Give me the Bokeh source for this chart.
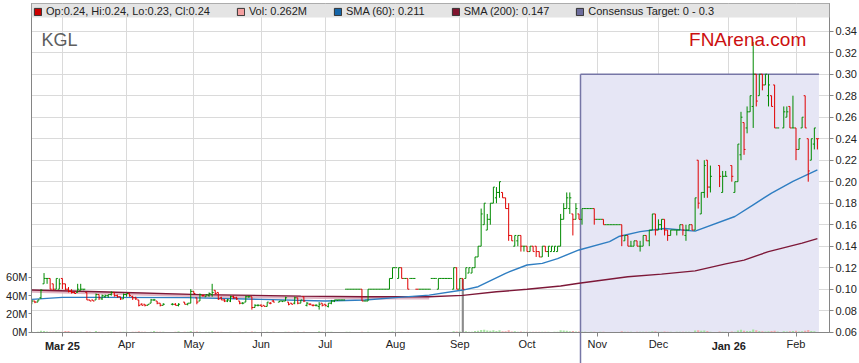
import numpy as np
import pandas as pd
from bokeh.plotting import figure
from bokeh.models import (ColumnDataSource, Range1d, LinearAxis, FixedTicker, PrintfTickFormatter,
                          BoxAnnotation, Label, Legend, LegendItem)
from bokeh.embed import file_html
from bokeh.resources import INLINE

# ---------------- data ----------------
ticker_name = "KGL"
brand = "FNArena.com"
first_day = "2025-02-17"
last_day = "2026-02-11"

# one row per week (Mon..Fri); None = market closed
opens = [
    .087, .089, .088, .092, .105,  .110, .110, .105, .100, .100,
    .110, .105, .100, .098, .097,  .097, .099, .100, .097, .090,
    .090, .090, .095, .091, .093,  .094, .095, .097, .094, .093,
    .091, .095, .096, .093, .092,  .090, .086, .086, .085, .087,
    .090, .089, .087, .085, None,  None, .086, .086, .085, None,
    .088, .086, .087, .098, .092,  .089, .094, .093, .094, .095,
    .099, .097, .092, .090, .089,  .089, .093, .092, .089, .087,
    .088, .093, .093, .083, .085,  .085, .085, .084, .087, .089,
    None, .088, .089, .089, .088,  .087, .087, .092, .087, .093,
    .085, .086, .085, .085, .084,  .087, .086, .084, .087, .089,
    .090, .090, .090, .100, .100,  .100, .100, .100, .100, .089,
    .089, .100, .100, .100, .100,  .100, .100, .100, .110, .120,
    .110, .120, .110, .110, .110,  .110, .100, .100, .100, .100,
    .100, .110, .110, .100, .110,  .110, .110, .110, .100, .120,
    .100, .110, .110, .115, .115,  .120, .130, .140, .160, .155,
    .165, .180, .185, .190, .190,  .185, .175, .150, .140, .145,
    .150, .140, .140, .135, .140,  .140, .135, .130, .140, .135,
    .135, .135, .135, .140, .165,  .175, .175, .170, .165, .170,
    .165, .175, .175, .175, .175,  .165, .165, .165, .160, .160,
    .160, .160, .160, .160, .145,  .150, .140, .140, .145, .140,
    .140, .150, .145, .155, .170,  .155, .160, .165, .155, .150,
    .155, .155, .155, .160, .150,  .155, .160, .155, .220, .170,
    .190, .220, .195, None, None,  .215, .190, .205, None, .215,
    .190, .200, .225, .255, .250,  .265, .270, .300, .280, .300,
    .290, .280, .280, .290, .250,  None, .250, .260, .270, .250,
    .250, .230, .250, .280, .240,  .220, .235, .240,
]
highs = [
    .090, .089, .090, .100, .115,  .110, .110, .105, .110, .110,
    .110, .105, .102, .100, .098,  .105, .105, .100, .097, .090,
    .090, .096, .095, .095, .095,  .095, .098, .097, .095, .093,
    .096, .096, .096, .094, .093,  .090, .087, .086, .086, .091,
    .091, .089, .087, .087, None,  None, .087, .087, .087, None,
    .088, .087, .100, .098, .092,  .096, .095, .095, .097, .105,
    .099, .097, .093, .091, .091,  .094, .094, .093, .089, .088,
    .094, .094, .093, .086, .086,  .086, .085, .088, .088, .090,
    None, .089, .089, .093, .088,  .087, .093, .092, .090, .093,
    .088, .087, .086, .086, .088,  .087, .086, .087, .090, .090,
    .090, .090, .090, .100, .100,  .100, .100, .100, .100, .089,
    .100, .100, .100, .100, .100,  .100, .100, .110, .120, .120,
    .120, .120, .110, .110, .110,  .110, .100, .100, .100, .100,
    .100, .110, .110, .110, .110,  .110, .110, .110, .120, .120,
    .110, .110, .120, .120, .120,  .130, .140, .175, .180, .170,
    .180, .195, .195, .200, .190,  .185, .180, .150, .150, .150,
    .150, .140, .140, .140, .140,  .140, .135, .140, .140, .140,
    .140, .140, .140, .170, .180,  .190, .190, .170, .180, .170,
    .175, .175, .175, .175, .175,  .165, .165, .165, .160, .160,
    .160, .160, .160, .160, .150,  .150, .145, .145, .145, .145,
    .150, .150, .155, .170, .170,  .165, .165, .165, .155, .155,
    .155, .155, .160, .160, .160,  .160, .160, .185, .220, .190,
    .220, .220, .215, None, None,  .215, .210, .210, None, .215,
    .200, .235, .265, .255, .270,  .280, .330, .300, .300, .300,
    .300, .300, .280, .290, .250,  None, .270, .270, .270, .280,
    .250, .240, .260, .280, .240,  .240, .250, .240,
]
lows = [
    .086, .087, .088, .091, .105,  .105, .100, .099, .100, .100,
    .100, .099, .097, .096, .096,  .097, .099, .099, .090, .089,
    .089, .090, .090, .090, .092,  .092, .094, .093, .092, .090,
    .091, .093, .093, .090, .090,  .084, .085, .084, .085, .087,
    .089, .086, .084, .085, None,  None, .085, .085, .084, None,
    .086, .085, .087, .096, .086,  .089, .093, .093, .093, .093,
    .095, .090, .090, .088, .088,  .088, .091, .090, .086, .086,
    .088, .092, .081, .083, .084,  .084, .084, .084, .086, .088,
    None, .088, .088, .089, .085,  .086, .086, .086, .087, .088,
    .084, .085, .084, .084, .081,  .084, .084, .083, .086, .088,
    .089, .090, .090, .100, .100,  .100, .100, .100, .089, .089,
    .089, .100, .100, .100, .100,  .100, .100, .100, .110, .120,
    .110, .110, .110, .100, .110,  .110, .100, .100, .100, .100,
    .100, .110, .110, .100, .110,  .110, .110, .110, .100, .100,
    .100, .100, .110, .115, .115,  .120, .130, .140, .160, .155,
    .160, .180, .180, .185, .185,  .175, .145, .145, .140, .140,
    .135, .135, .135, .135, .135,  .130, .130, .130, .135, .130,
    .135, .135, .135, .140, .165,  .175, .170, .150, .165, .165,
    .160, .175, .175, .175, .160,  .165, .165, .160, .160, .160,
    .160, .160, .160, .140, .145,  .140, .140, .140, .140, .135,
    .140, .145, .140, .155, .150,  .155, .155, .150, .145, .150,
    .155, .150, .155, .150, .145,  .155, .155, .155, .175, .170,
    .185, .185, .190, None, None,  .195, .190, .205, None, .200,
    .190, .200, .220, .225, .245,  .265, .250, .270, .280, .285,
    .290, .270, .270, .250, .250,  None, .250, .260, .250, .250,
    .220, .230, .250, .250, .200,  .220, .230, .230,
]
closes = [
    .089, .088, .090, .099, .110,  .110, .100, .100, .110, .105,
    .105, .100, .098, .097, .096,  .100, .100, .100, .090, .089,
    .089, .095, .092, .094, .094,  .095, .097, .094, .093, .091,
    .095, .096, .094, .092, .091,  .085, .085, .085, .086, .090,
    .090, .087, .085, .086, None,  None, .086, .085, .086, None,
    .086, .087, .098, .096, .088,  .095, .094, .095, .096, .097,
    .096, .091, .090, .089, .090,  .093, .092, .091, .087, .087,
    .093, .093, .083, .085, .085,  .084, .084, .088, .087, .088,
    None, .089, .089, .092, .086,  .086, .092, .087, .090, .089,
    .087, .086, .085, .085, .086,  .085, .085, .087, .089, .090,
    .090, .090, .090, .100, .100,  .100, .100, .100, .089, .089,
    .100, .100, .100, .100, .100,  .100, .100, .110, .120, .120,
    .120, .110, .110, .100, .110,  .110, .100, .100, .100, .100,
    .100, .110, .110, .110, .110,  .110, .110, .110, .120, .100,
    .110, .100, .120, .120, .120,  .130, .140, .170, .180, .165,
    .180, .195, .190, .200, .185,  .175, .150, .145, .150, .150,
    .140, .140, .135, .140, .135,  .135, .130, .140, .135, .140,
    .140, .140, .140, .165, .175,  .185, .185, .165, .175, .165,
    .175, .175, .175, .175, .165,  .165, .165, .160, .160, .160,
    .160, .160, .160, .150, .150,  .140, .140, .145, .140, .140,
    .150, .145, .155, .170, .155,  .160, .165, .155, .150, .155,
    .155, .155, .160, .155, .155,  .160, .155, .185, .180, .190,
    .215, .195, .205, None, None,  .205, .205, .205, None, .205,
    .200, .235, .260, .230, .265,  .280, .300, .275, .300, .290,
    .300, .290, .270, .250, .250,  None, .265, .265, .250, .250,
    .230, .240, .260, .250, .210,  .240, .250, .240,
]
volumes_m = [
    0.4, 0.3, 0.5, 1.6, 1.2,  0.8, 0.6, 0.5, 0.7, 0.5,
    0.4, 1.4, 1.3, 0.6, 0.4,  0.5, 0.6, 0.3, 0.8, 0.4,
    0.3, 1.2, 0.5, 0.4, 0.3,  0.4, 0.5, 0.6, 0.3, 0.4,
    0.5, 0.4, 0.3, 0.5, 0.4,  0.9, 0.5, 0.4, 0.3, 0.6,
    1.4, 0.5, 0.6, 0.4, None, None, 0.3, 0.4, 1.1, None,
    0.5, 0.4, 1.2, 0.6, 0.7,  0.6, 0.3, 0.4, 0.5, 0.9,
    0.6, 0.5, 0.4, 0.3, 0.3,  0.4, 0.3, 0.3, 0.5, 0.3,
    0.4, 0.3, 0.8, 0.4, 0.3,  0.3, 0.3, 0.4, 0.3, 0.4,
    None, 0.2, 0.2, 0.4, 0.5, 0.3, 0.5, 0.4, 0.3, 0.4,
    0.3, 0.3, 0.2, 0.3, 1.0,  0.4, 0.3, 0.5, 0.4, 0.3,
    0.2, 0.2, 0.1, 0.6, 0.4,  0.2, 0.2, 0.2, 0.5, 0.2,
    0.4, 0.2, 0.2, 0.1, 0.2,  0.2, 0.2, 0.6, 0.8, 0.3,
    0.5, 0.6, 0.2, 0.5, 0.3,  0.2, 0.3, 0.2, 0.2, 0.2,
    0.2, 0.3, 0.2, 0.4, 0.2,  0.2, 0.3, 0.2, 0.9, 0.7,
    0.8, 58.0, 1.0, 0.6, 0.5, 1.2, 1.5, 2.5, 2.8, 1.9,
    1.6, 2.2, 1.4, 2.0, 1.1,  1.0, 2.0, 0.8, 0.9, 0.6,
    0.7, 0.5, 0.4, 0.5, 0.4,  0.4, 0.5, 0.6, 0.4, 0.5,
    0.3, 0.4, 0.4, 2.2, 1.8,  1.6, 1.1, 1.4, 0.8, 0.7,
    0.6, 0.4, 0.3, 0.4, 0.5,  0.3, 0.4, 0.5, 0.2, 0.2,
    0.2, 0.2, 0.3, 0.9, 0.5,  0.6, 0.4, 0.3, 0.5, 0.4,
    0.5, 0.4, 0.6, 1.1, 0.9,  0.6, 0.5, 0.7, 0.5, 0.4,
    0.3, 0.4, 0.5, 0.6, 0.5,  0.4, 0.3, 1.9, 2.2, 1.6,
    1.8, 1.2, 0.6, None, None, 0.8, 0.6, 0.5, None, 0.7,
    0.5, 1.9, 2.6, 1.5, 1.3,  1.4, 3.0, 2.0, 1.2, 0.9,
    0.8, 1.1, 1.3, 1.6, 0.7,  None, 1.0, 0.7, 1.1, 1.2,
    1.6, 0.8, 1.0, 1.5, 2.4,  1.3, 0.9, 0.262,
]

sma60_dates = ["2025-02-17", "2025-03-03", "2025-03-19", "2025-04-29", "2025-06-02", "2025-07-01",
               "2025-07-18", "2025-08-04", "2025-08-18", "2025-09-02", "2025-09-09", "2025-09-22",
               "2025-10-01", "2025-10-08", "2025-10-15", "2025-10-24", "2025-11-07", "2025-11-12",
               "2025-11-21", "2025-12-03", "2025-12-17", "2026-01-05", "2026-01-13", "2026-01-21",
               "2026-01-30", "2026-02-11"]
sma60_vals = [0.0905, 0.0924, 0.0924, 0.0922, 0.0905, 0.0890,
              0.0900, 0.0924, 0.0945, 0.0992, 0.1023, 0.1148,
              0.1225, 0.1240, 0.1285, 0.1365, 0.1443, 0.1490,
              0.1536, 0.1565, 0.1540, 0.1676, 0.1785, 0.1894,
              0.2003, 0.2110]
sma200_dates = ["2025-02-17", "2025-03-19", "2025-05-05", "2025-06-19", "2025-07-18", "2025-08-18",
                "2025-09-02", "2025-09-17", "2025-10-01", "2025-10-16", "2025-10-24", "2025-11-17",
                "2025-12-02", "2025-12-17", "2025-12-31", "2026-01-08", "2026-01-20", "2026-02-04",
                "2026-02-11"]
sma200_vals = [0.0992, 0.0976, 0.0950, 0.0936, 0.0930, 0.0930,
               0.0943, 0.0976, 0.0999, 0.1030, 0.1055, 0.1116,
               0.1140, 0.1170, 0.1235, 0.1270, 0.1350, 0.1428,
               0.1470]
sma200_warmup_end = "2025-08-22"

consensus_low, consensus_high = 0.0, 0.3
consensus_start = "2025-10-27"

month_labels = ["Mar 25", "Apr", "May", "Jun", "Jul", "Aug", "Sep", "Oct", "Nov", "Dec", "Jan 26", "Feb"]
year_labels = ["Mar 25", "Jan 26"]
price_ticks = [0.06, 0.08, 0.10, 0.12, 0.14, 0.16, 0.18, 0.20, 0.22, 0.24, 0.26, 0.28, 0.30, 0.32, 0.34]
vol_ticks = [0, 20, 40, 60]

# ---------------- build ----------------
days = pd.bdate_range(first_day, last_day)
assert len(days) == len(opens) == len(highs) == len(lows) == len(closes) == len(volumes_m)
pos = np.arange(len(days), dtype=float)
date_pos = {d.strftime("%Y-%m-%d"): float(i) for i, d in enumerate(days)}

df = pd.DataFrame(dict(x=pos, o=opens, h=highs, l=lows, c=closes, v=volumes_m), dtype=float)
df = df.dropna().reset_index(drop=True)

UP, DOWN = "#008a00", "#e00000"
cols, vcols = [], []
prev = None
for o, c, v in zip(df.o, df.c, df.v):
    if c > o:
        up = True
    elif c < o:
        up = False
    else:
        up = True if prev is None else c >= prev
    cols.append(UP if up else DOWN)
    vcols.append("#8c8c8c" if v > 20 else ("#a6e3a0" if up else "#f4a8a8"))
    prev = c
df["color"] = cols
df["vcolor"] = vcols
df["xl"] = df.x - 0.5
df["xr"] = df.x + 0.5
src = ColumnDataSource(df)

is_ms = np.r_[False, days.month[1:] != days.month[:-1]]
month_pos = [float(v) for v in pos[is_ms]]
year_pos = [mp for mp, lab in zip(month_pos, month_labels) if lab in year_labels]

# pixel geometry: frame x 31..832, y 3..332
PX = 3.0683          # px per weekday
X0 = -0.10
X1 = X0 + 801 / PX
PY = 1075.0          # px per price unit
Y0 = 0.06 - 0.3 / PY
Y1 = Y0 + 329 / PY
PV = 0.9167          # px per million shares
V0 = -0.3 / PV
V1 = V0 + 329 / PV
def dx(px):
    return X0 + (px - 31) / PX
def dy(py):
    return Y0 + (332 - py) / PY

FONT = "Liberation Sans"
p = figure(width=859, height=363, output_backend="svg", toolbar_location=None, title=None,
           x_range=Range1d(X0, X1), y_range=Range1d(Y0, Y1), y_axis_location="right",
           min_border_left=31, min_border_right=27, min_border_top=3, min_border_bottom=31)
p.extra_y_ranges = {"vol": Range1d(V0, V1)}
p.background_fill_color = "white"
p.border_fill_color = "white"
p.outline_line_color = "#9a9a9a"

# grids
p.xgrid.ticker = FixedTicker(ticks=month_pos)
p.ygrid.ticker = FixedTicker(ticks=price_ticks)
for g in (p.xgrid[0], p.ygrid[0]):
    g.grid_line_color = "#dadada"
    g.grid_line_width = 1

# consensus target box
cl = date_pos[consensus_start] - 0.5
cr = float(df.x.iloc[-1]) + 0.5
p.quad(left=[cl], right=[cr], bottom=[consensus_low], top=[consensus_high],
       fill_color="#e6e6f5", line_color=None)
p.segment(x0=[cl, cl], y0=[consensus_high, consensus_low], x1=[cr, cl], y1=[consensus_high, consensus_high],
          line_color="#7676a6", line_width=1.5)

# volume
p.vbar(x="x", top="v", bottom=0, width=0.7, fill_color="vcolor", line_color=None,
       source=src, y_range_name="vol")

# moving averages
s60x = [date_pos[d] for d in sma60_dates]
s200x = [date_pos[d] for d in sma200_dates]
wu = [i for i, d in enumerate(sma200_dates) if d <= sma200_warmup_end]
p.line([s200x[i] for i in wu], [sma200_vals[i] - 0.0012 for i in wu],
       line_color="#d9a3b5", line_width=3, line_alpha=0.8)
p.line(s200x, sma200_vals, line_color="#7d1838", line_width=1.4)
p.line(s60x, sma60_vals, line_color="#2f7ec2", line_width=1.4)

# OHLC bars
p.segment(x0="x", y0="l", x1="x", y1="h", line_color="color", line_width=1, source=src)
p.segment(x0="xl", y0="o", x1="x", y1="o", line_color="color", line_width=1, source=src)
p.segment(x0="x", y0="c", x1="xr", y1="c", line_color="color", line_width=1, source=src)

# axes
ax = p.yaxis[0]
ax.ticker = FixedTicker(ticks=price_ticks)
ax.formatter = PrintfTickFormatter(format="%.2f")
vax = LinearAxis(y_range_name="vol", ticker=FixedTicker(ticks=vol_ticks),
                 major_label_overrides={t: f"{t}M" for t in vol_ticks})
p.add_layout(vax, "left")
xa = p.xaxis[0]
xa.ticker = FixedTicker(ticks=month_pos)
xa.major_label_overrides = {mp: ("" if lab in year_labels else lab) for mp, lab in zip(month_pos, month_labels)}
for a in (ax, vax, xa):
    a.axis_line_color = "#858585"
    a.major_tick_line_color = "#858585"
    a.minor_tick_line_color = None
    a.major_tick_in = 0
    a.major_label_text_font = FONT
    a.major_label_text_font_size = "11px"
    a.major_label_text_color = "#222222"
ax.major_tick_out = 4
ax.major_label_standoff = 2
vax.major_tick_out = 3
vax.major_label_standoff = 1
xa.major_tick_out = 4
xa.major_label_standoff = 1

# bold year labels, drawn on a second bottom axis pulled up into the month row
xb = LinearAxis(ticker=FixedTicker(ticks=year_pos),
                major_label_overrides={mp: lab for mp, lab in zip(month_pos, month_labels) if lab in year_labels},
                axis_line_color=None, major_tick_line_color=None, minor_tick_line_color=None,
                major_tick_in=0, major_tick_out=0, major_label_standoff=-13,
                major_label_text_font=FONT, major_label_text_font_size="11px",
                major_label_text_font_style="bold", major_label_text_color="#222222")
p.add_layout(xb, "below")
# consensus start marker continuing below the axis
xc = LinearAxis(ticker=FixedTicker(ticks=[cl]), major_label_overrides={cl: ""},
                axis_line_color=None, major_tick_line_color="#7676a6", major_tick_line_width=1.5,
                minor_tick_line_color=None, major_tick_in=22, major_tick_out=9,
                major_label_standoff=0, major_label_text_font_size="1px")
p.add_layout(xc, "below")

# legend bar
p.add_layout(BoxAnnotation(bottom=dy(17), fill_color="#e4e4e4", fill_alpha=1.0, line_alpha=0))
last = df.iloc[-1]
leg_specs = [
    (f"Op:{last.o:.2f}, Hi:{last.h:.2f}, Lo:{last.l:.2f}, Cl:{last.c:.2f}", "#cc0000"),
    (f"Vol: {last.v:.3f}M", "#f4a0a0"),
    (f"SMA (60): {sma60_vals[-1]:.3f}", "#1565a8"),
    (f"SMA (200): {sma200_vals[-1]:.3f}", "#80142e"),
    (f"Consensus Target: {consensus_low:g} - {consensus_high:g}", "#6c6c9c"),
]
items = []
for lab, colr in leg_specs:
    r = p.quad(left=[X0 - 20], right=[X0 - 19], top=[Y0 - 0.1], bottom=[Y0 - 0.2],
               fill_color=colr, line_color="#333333")
    items.append(LegendItem(label=lab, renderers=[r]))
legend = Legend(items=items, orientation="horizontal", location="top_left", margin=0, padding=2,
                spacing=26, glyph_width=9, glyph_height=9, label_standoff=4, label_height=9,
                label_text_font=FONT, label_text_font_size="11px", label_text_color="#222222",
                background_fill_alpha=0, border_line_alpha=0)
p.add_layout(legend)

p.add_layout(Label(x=dx(41), y=dy(39), text=ticker_name, text_font=FONT, text_font_size="18px",
                   text_color="#5e5e5e", text_baseline="alphabetic"))
p.add_layout(Label(x=dx(691), y=dy(39), text=brand, text_font=FONT, text_font_size="19px",
                   text_color="#cc1010", text_baseline="alphabetic"))

open("out.html", "w").write(file_html(p, INLINE))
